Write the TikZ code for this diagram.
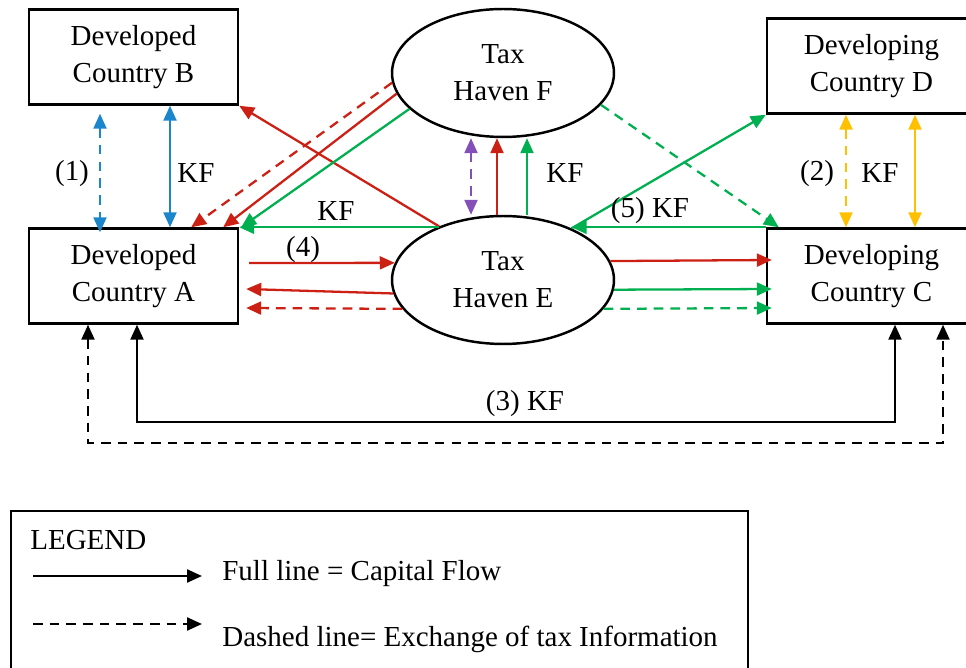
\documentclass[tikz,border=0pt]{standalone}
\usepackage{fontspec}
\setmainfont{Liberation Serif}
\usetikzlibrary{shapes.geometric, arrows.meta, calc}
\definecolor{flowred}{RGB}{204, 32, 20}
\definecolor{flowgreen}{RGB}{0, 176, 80}
\definecolor{flowblue}{RGB}{28, 134, 204}
\definecolor{flowpurple}{RGB}{133, 79, 185}
\definecolor{flowyellow}{RGB}{255, 192, 0}

\begin{document}
\begin{tikzpicture}[x=0.02cm, y=-0.02cm,
  font=\fontsize{16.5}{21}\selectfont,
  >={Triangle[length=0.3cm, width=0.26cm]},
  country/.style={draw, line width=1.4pt, minimum width=4.18cm, minimum height=1.9cm, align=center, inner sep=0pt},
  haven/.style={ellipse, draw, line width=1.4pt, minimum width=4.44cm, minimum height=2.56cm, align=center, inner sep=0pt},
  flow/.style={line width=1.3pt, ->},
  info/.style={dash pattern=on 5.5pt off 4pt}]
  \useasboundingbox (0,0) rectangle (966,668);

  % countries and tax havens
  \node[country] (B) at (133.5,57) {Developed\\Country B};
  \node[country] (A) at (133.5,276) {Developed\\Country A};
  \node[haven] (F) at (503,73) {Tax\\Haven F};
  \node[haven] (E) at (503,280) {Tax\\Haven E};
  \node[country] (D) at (871.5,66) {Developing\\Country D};
  \node[country] (C) at (871.5,276) {Developing\\Country C};

  % (1) between A and B
  \draw[flow, <->, flowblue, info] ([shift={(-33.5,8)}]B.south) -- ([shift={(-33.5,5)}]A.north);
  \draw[flow, <->, flowblue] ([shift={(36.5,0)}]B.south) -- ([shift={(36.5,0)}]A.north);
  \node (l1) at (72,174) {(1)};
  \node (k1) at (196,173) {KF};

  % havens towards A and B
  \draw[flow, flowred] (E.140) -- (B.south east);
  \draw[flow, flowred, info] (F.185) -- ([shift={(-48,0)}]A.north east);
  \draw[flow, flowred] (F.191) -- ([shift={(-16,0)}]A.north east);
  \draw[flow, flowgreen] (F.201) -- ([shift={(2,0)}]A.north east);
  \draw[flow, flowgreen] (A.north east -| E.140) -- (A.north east);
  \node (k2) at (336,211) {KF};

  % (4) between A and E
  \draw[flow, flowred] ([shift={(10,-13)}]A.east) -- (E.171);
  \draw[flow, flowred] (E.187) -- ([shift={(7,13)}]A.east);
  \draw[flow, flowred, info] (E.196) -- ([shift={(7,32)}]A.east);
  \node (l4) at (303,250) {(4)};

  % between E and F
  \draw[flow, <->, flowpurple, info] ([shift={(-32,0)}]F.south) -- ([shift={(-32,0)}]E.north);
  \draw[flow, flowred] ([shift={(-6,0)}]E.north) -- ([shift={(-6,0)}]F.south);
  \draw[flow, flowgreen] ([shift={(24,0)}]E.north) -- ([shift={(24,0)}]F.south);
  \node (k3) at (565,173) {KF};

  % havens towards C and D
  \draw[flow, flowgreen, info] (F.-18) -- ([shift={(13,0)}]C.north west);
  \draw[flow, flowgreen] (E.37) -- (D.south west);
  \draw[flow, flowgreen] (C.north west) -- (C.north west -| E.37);
  \node (l5) at (650,211) {(5) KF};
  \draw[flow, flowred] (E.10) -- ([shift={(6,-16)}]C.west);
  \draw[flow, flowgreen] (E.-5) -- ([shift={(6,13)}]C.west);
  \draw[flow, flowgreen, info] (E.-16) -- ([shift={(6,32)}]C.west);

  % (2) between C and D
  \draw[flow, <->, flowyellow, info] ([shift={(-25.5,0)}]D.south) -- ([shift={(-25.5,0)}]C.north);
  \draw[flow, <->, flowyellow] ([shift={(43.5,0)}]D.south) -- ([shift={(43.5,0)}]C.north);
  \node (l2) at (817,174) {(2)};
  \node (k4) at (880,173) {KF};

  % (3) between A and C
  \coordinate (kfl) at (137,422);
  \coordinate (kfr) at (895,422);
  \coordinate (til) at (88,443);
  \coordinate (tir) at (943,443);
  \draw[flow, <->] (A.south -| kfl) -- (kfl) -- (kfr) -- (C.south -| kfr);
  \draw[flow, <->, info] (A.south -| til) -- (til) -- (tir) -- (C.south -| tir);
  \node (l3) at (525,404) {(3) KF};

  % legend
  \node[draw, line width=1pt, minimum width=14.74cm, minimum height=3.6cm, anchor=north west] (legend) at (10,510) {};
  \node[anchor=west, inner sep=0pt] (lgd) at (30,540) {LEGEND};
  \node[anchor=west, inner sep=0pt] (full) at (222,574) {Full line = Capital Flow};
  \node[anchor=west, inner sep=0pt] (dash) at (222,639) {Dashed line= Exchange of tax Information};
  \coordinate (fs) at (33,576);
  \coordinate (ds) at (33,624);
  \draw[flow] (fs) -- ([shift={(-20,2)}]full.west);
  \draw[flow, info] (ds) -- ([shift={(-20,-15)}]dash.west);
\end{tikzpicture}
\end{document}
